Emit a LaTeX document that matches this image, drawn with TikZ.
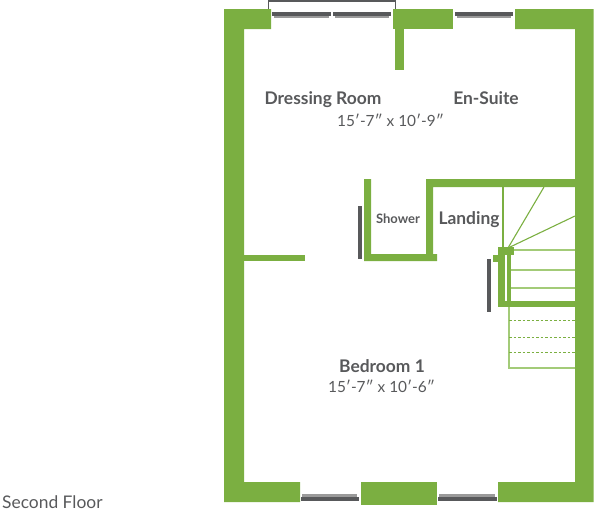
\documentclass[tikz,border=0pt]{standalone}
\usepackage{fontspec}
\setmainfont{Lato}
\definecolor{wallgreen}{HTML}{7BAF41}
\definecolor{stairline}{HTML}{A3CB78}
\definecolor{inkgrey}{HTML}{58595B}
\definecolor{winlight}{HTML}{9A9A9A}
\tikzset{
  wall/.style={fill=wallgreen,draw=none},
  tread/.style={draw=stairline,line width=1.2pt},
  thintread/.style={draw=wallgreen,line width=1.1pt},
  dashedtread/.style={draw=wallgreen,line width=1pt,dash pattern=on 2.5pt off 2pt},
  doorbar/.style={fill=inkgrey,draw=none},
  roomname/.style={font=\bfseries\fontsize{17.4}{20}\selectfont,text=inkgrey,inner sep=0pt,anchor=base},
  roomsize/.style={font=\fontsize{15.4}{20}\selectfont,text=inkgrey,inner sep=0pt,anchor=base},
  smallname/.style={font=\bfseries\fontsize{13}{15}\selectfont,text=inkgrey,inner sep=0pt,anchor=base},
}
% window with dark band above a lighter one
\newcommand{\wintop}[2]{%
  \fill[inkgrey] (#1,12) rectangle (#2,15.6);
  \fill[winlight] (#1+2,16) rectangle (#2-2,18);
}
% window with lighter band above a dark one
\newcommand{\winbot}[2]{%
  \fill[winlight] (#1+1,494) rectangle (#2-2,497);
  \fill[inkgrey] (#1,497) rectangle (#2,501);
}
\begin{document}
\begin{tikzpicture}[x=1pt,y=-1pt]
\useasboundingbox (0,0) rectangle (600,515);
% outer walls
\path[wall] (224,9) -- (271,9) -- (271,29) -- (244,29) -- (244,482) -- (300,482) -- (300,502) -- (224,502) -- cycle;
\path[wall] (393,9) rectangle (453,29);
\path[wall] (515,9) -- (593.5,9) -- (593.5,502) -- (498,502) -- (498,482) -- (575,482) -- (575,29) -- (515,29) -- cycle;
\path[wall] (361,482) rectangle (437,505);
\path[wall] (395,29) rectangle (404,70);
% partitions
\path[wall] (244,255) rectangle (305,261);
\path[wall] (364,179) -- (371,179) -- (371,254) -- (426,254) -- (426,179) -- (575,179) -- (575,187) -- (433,187) -- (433,254) -- (437,254) -- (437,261) -- (364,261) -- cycle;
% stairs
\draw[thintread] (503,187) -- (503,250);
\draw[thintread] (508,248) -- (544,187);
\draw[thintread] (508,248) -- (575,216);
\draw[tread] (510,250) -- (575,250);
\draw[tread] (510,270) -- (575,270);
\draw[tread] (510,288) -- (575,288);
\draw[tread] (509,307) -- (509,368) -- (575,368);
\draw[dashedtread] (509,320) -- (575,320);
\draw[dashedtread] (509,337) -- (575,337);
\draw[dashedtread] (509,352) -- (575,352);
\path[wall] (498,247) rectangle (513.5,255);
\path[wall] (493,255) rectangle (505,261.5);
\path[wall] (498,261) rectangle (505,307);
\path[wall] (507,255) rectangle (511,301);
\path[wall] (498,300.7) rectangle (575,307);
% door bars
\path[doorbar] (358,206) rectangle (362,259);
\path[doorbar] (487,259) rectangle (491,312);
% windows
\wintop{272}{331}
\wintop{333}{391}
\wintop{455}{513}
\winbot{301}{359}
\winbot{438}{497}
\draw[inkgrey,line width=1.3pt] (268.5,9) -- (268.5,1) -- (395.5,1) -- (395.5,9);
% labels
\node[roomname] (dressing) at (323,104) {Dressing Room};
\node[roomname] (ensuite) at (486,104) {En-Suite};
\node[roomsize] (size1) at (390.5,126) {15′-7″ x 10′-9″};
\node[smallname] (shower) at (398,223) {Shower};
\node[roomname] (landing) at (469,224) {Landing};
\node[roomname] (bedroom) at (382,372) {Bedroom 1};
\node[roomsize] (size2) at (381.5,392) {15′-7″ x 10′-6″};
\node[roomsize,anchor=base west,font=\fontsize{17.4}{20}\selectfont] (floor) at (2,508) {Second Floor};
\end{tikzpicture}
\end{document}
